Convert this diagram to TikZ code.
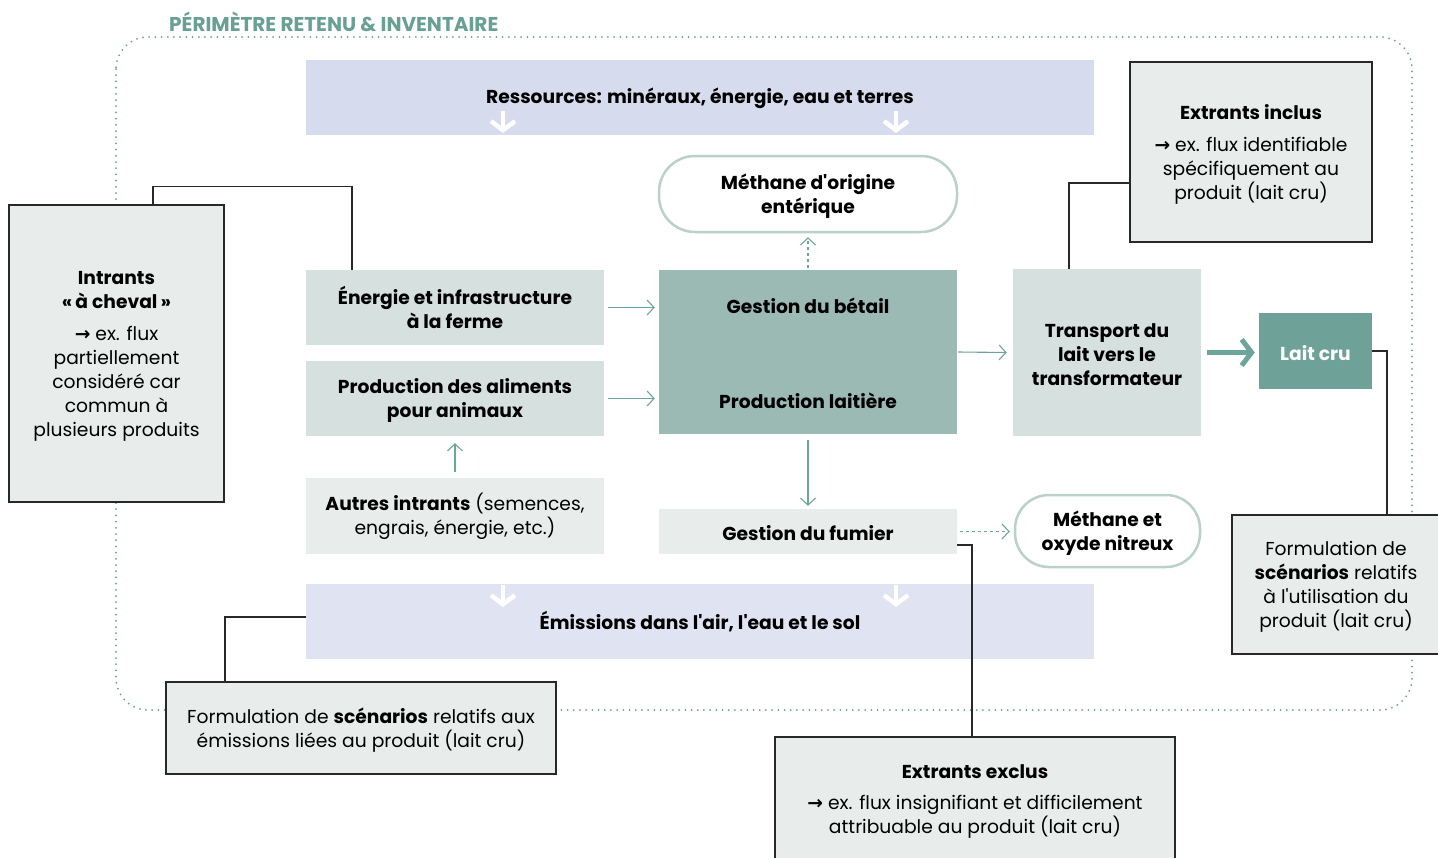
\documentclass[tikz,border=0pt]{standalone}
\usepackage{fontspec}
\setmainfont{Poppins}
\newfontfamily\djv{DejaVu Sans}
\usetikzlibrary{arrows.meta}
\definecolor{tealt}{RGB}{104,160,148}
\definecolor{lavA}{RGB}{214,219,237}
\definecolor{lavB}{RGB}{224,227,242}
\definecolor{boxL}{RGB}{232,236,235}
\definecolor{boxM}{RGB}{214,224,222}
\definecolor{boxC}{RGB}{155,186,180}
\definecolor{laitc}{RGB}{110,161,152}
\definecolor{arrt}{RGB}{110,165,155}
\definecolor{rborder}{RGB}{185,208,203}
\definecolor{connc}{RGB}{40,40,40}
\newcommand{\rarr}{{\djv\bfseries →}}
\newcommand{\fsz}{\fontsize{18.7}{24}\selectfont}
\newcommand{\dn}{\rule{0pt}{19pt}}
\newcommand{\ap}{\textquotesingle}
\tikzset{
  band/.style={minimum width=788pt, minimum height=75pt, inner sep=0pt, align=center, font=\fsz\bfseries},
  flat/.style={minimum width=298pt, inner sep=0pt, align=center, font=\fsz\bfseries},
  pill/.style={fill=white, draw=rborder, line width=2.5pt, inner sep=0pt, align=center, font=\fsz\bfseries},
  note/.style={fill=boxL, draw=connc, line width=1.2pt, inner sep=0pt, align=center, font=\fsz},
  conn/.style={draw=connc, line width=1.1pt},
  tarr/.style={draw=arrt, line width=1.1pt, -{Straight Barb[length=7pt,width=15pt]}},
  tarrd/.style={tarr, dash pattern=on 3pt off 3pt},
  warr/.style={draw=white, line width=4.5pt, -{Straight Barb[length=9pt,width=24pt,line width=4.5pt]}},
  thickarr/.style={draw=arrt, line width=5pt, -{Straight Barb[length=10pt,width=26pt,line width=5pt]}},
  dotframe/.style={draw=tealt, line width=2pt, dash pattern=on 0pt off 6.2pt, line cap=round, rounded corners=32pt},
}
\begin{document}
\begin{tikzpicture}[x=1pt,y=-1pt, font=\fsz]
\useasboundingbox (0,0) rectangle (1438,857);
\clip (0,0) rectangle (1438,857);
\fill[white] (0,0) rectangle (1438,857);

% frame
\draw[dotframe] (116,37) rectangle (1412,710);
\node[anchor=west, text=tealt, font=\fontsize{20}{22}\selectfont\bfseries, inner sep=0pt] (title) at (169,22) {PÉRIMÈTRE RETENU \& INVENTAIRE};

% bands
\node[band, fill=lavA] (res) at (700,97) {\dn Ressources: minéraux, énergie, eau et terres};
\node[band, fill=lavB] (emi) at (700,621.5) {\dn Émissions dans l\ap air, l\ap eau et le sol};
\draw[warr] (503,111) -- (503,133);
\draw[warr] (896,111) -- (896,133);
\draw[warr] (503,585) -- (503,607);
\draw[warr] (896,585) -- (896,607);

% left column
\node[flat, fill=boxM, minimum height=75pt] (ener) at (455,307.5) {\dn Énergie et infrastructure\\à la ferme};
\node[flat, fill=boxM, minimum height=75pt] (ali) at (455,398.5) {\dn Production des aliments\\pour animaux};
\node[flat, fill=boxL, minimum height=76pt, font=\fsz\mdseries] (aut) at (455,516) {\dn\textbf{Autres intrants} (semences,\\engrais, énergie, etc.)};

% centre
\node[flat, fill=boxC, minimum height=164pt] (cen) at (808,352) {\dn Gestion du bétail\\[71pt]Production laitière};
\node[pill, minimum width=298pt, minimum height=76pt, rounded corners=36pt] (meth) at (808,194) {\dn Méthane d\ap origine\\entérique};
\node[flat, fill=boxL, minimum height=45pt] (fum) at (808,531.5) {\dn Gestion du fumier};
\node[pill, minimum width=185pt, minimum height=72pt, rounded corners=34pt] (mox) at (1107.5,531) {\dn Méthane et\\oxyde nitreux};

% right
\node[flat, fill=boxM, minimum width=188pt, minimum height=167pt] (trans) at (1107,352.5) {\dn Transport du\\lait vers le\\transformateur};
\node[flat, fill=laitc, minimum width=113pt, minimum height=76pt, text=white] (lait) at (1315.5,351) {\dn Lait cru};

% notes
\node[note, minimum width=215pt, minimum height=297pt] (intr) at (116.5,353.5) {\dn\textbf{Intrants}\\\textbf{«\,à cheval\,»}\\[8pt]\rarr{} ex. flux\\partiellement\\considéré car\\commun à\\plusieurs produits};
\node[note, minimum width=242pt, minimum height=180pt] (incl) at (1251,152) {\dn\textbf{Extrants inclus}\\[8pt]\rarr{} ex. flux identifiable\\spécifiquement au\\produit (lait cru)};
\node[note, minimum width=208pt, minimum height=139pt] (fr) at (1336,584.5) {\dn Formulation de\\\textbf{scénarios} relatifs\\à l\ap utilisation du\\produit (lait cru)};
\node[note, minimum width=390pt, minimum height=92pt] (fb) at (361,728) {\dn Formulation de \textbf{scénarios} relatifs aux\\émissions liées au produit (lait cru)};
\node[note, minimum width=400pt, minimum height=124pt] (excl) at (975,799) {\dn\textbf{Extrants exclus}\\[7pt]\rarr{} ex. flux insignifiant et difficilement\\attribuable au produit (lait cru)};

% teal arrows
\draw[tarr] ([xshift=4pt]ener.east) -- ([xshift=-4pt]ener.east -| cen.west);
\draw[tarr] ([xshift=4pt]ali.east) -- ([xshift=-4pt]ali.east -| cen.west);
\draw[tarr] ([yshift=6pt]aut.north) -- ([yshift=-7pt]ali.south);
\draw[tarr] ([yshift=-6pt]cen.south) -- ([yshift=3pt]fum.north);
\draw[tarrd] ([yshift=2pt]cen.north) -- ([yshift=-4pt]meth.south);
\draw[tarr] ([xshift=1pt]cen.east) -- ([xshift=-6pt]trans.west);
\draw[tarrd] ([xshift=3pt]fum.east) -- ([xshift=-4pt]fum.east -| mox.west);
\draw[thickarr] ([xshift=6pt]trans.east) -- ([xshift=-4pt]trans.east -| lait.west);

% black connectors
\draw[conn] ([xshift=36.5pt]intr.north) -- ++(0,-18) -| ([xshift=-103pt]ener.north);
\draw[conn] ([xshift=-38pt]trans.north) |- ([yshift=-31pt]incl.west);
\draw[conn] (lait.east) -| ([xshift=51pt]fr.north);
\draw[conn] ([yshift=4.5pt]emi.west) -| ([xshift=-136pt]fb.north);
\draw[conn] ([yshift=-13.5pt]fum.east) -| ([xshift=-3pt]excl.north);
\end{tikzpicture}
\end{document}
